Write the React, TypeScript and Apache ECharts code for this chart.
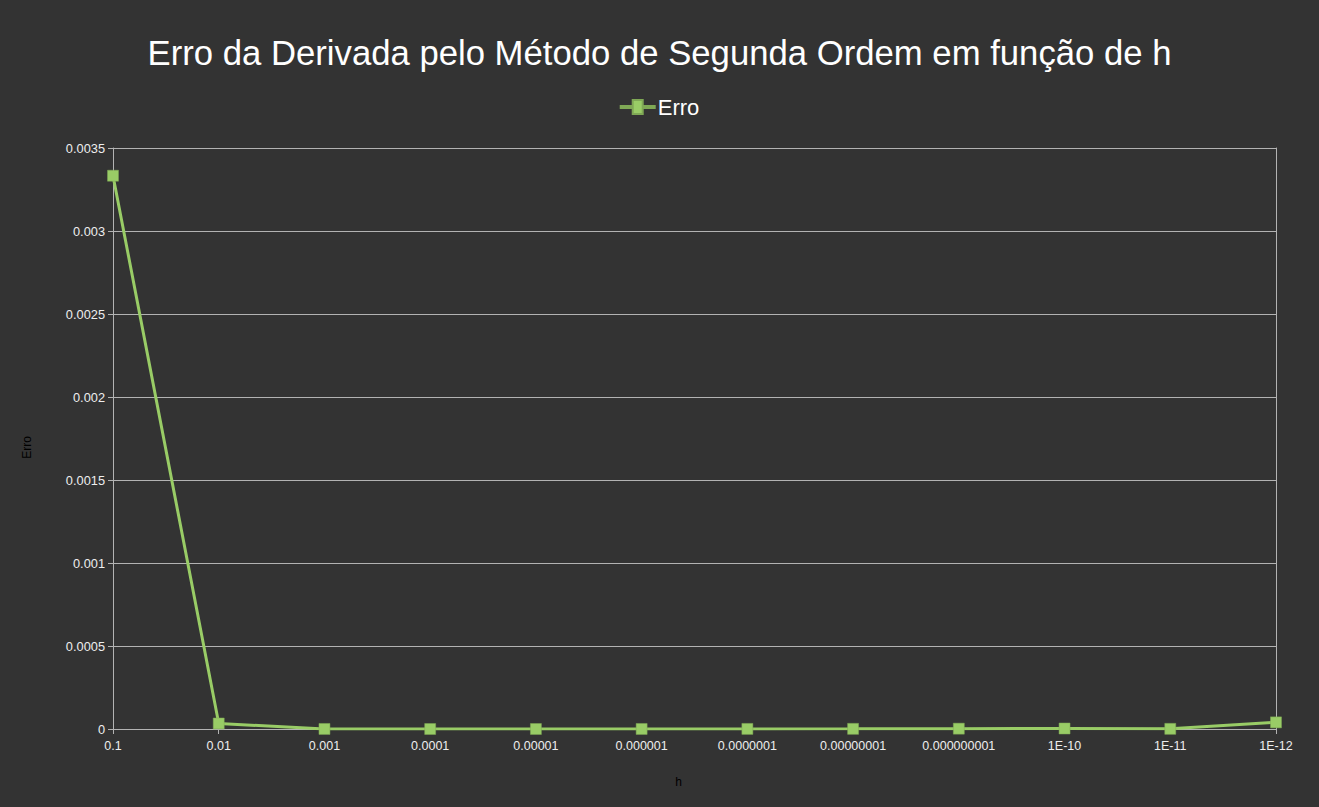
import React, { useEffect, useRef } from "react";
import * as echarts from "echarts";

const categories = ["0.1", "0.01", "0.001", "0.0001", "0.00001", "0.000001", "0.0000001", "0.00000001", "0.000000001", "1E-10", "1E-11", "1E-12"];
const erroValues = [0.003333, 0.0000333, 0.00000033, 0.0000000033, 0.00000003, 0.0000002, 0.0000006, 0.000001, 0.000002, 0.000003, 0.000001, 0.00004];
const yTicks = { min: 0, max: 0.0035, interval: 0.0005 };

export default function App() {
  const ref = useRef<HTMLDivElement>(null);
  useEffect(() => {
    if (!ref.current) return;
    const chart = echarts.init(ref.current, null, { renderer: "svg" });
    const green = "#99cc66";
    const font = "Liberation Sans, Arial, sans-serif";
    chart.setOption({
      animation: false,
      backgroundColor: "#333333",
      title: {
        text: "Erro da Derivada pelo Método de Segunda Ordem em função de h",
        left: "center",
        top: 30,
        textStyle: { color: "#ffffff", fontSize: 34.7, fontWeight: "normal", fontFamily: font },
      },
      legend: {
        top: 91,
        left: "center",
        itemWidth: 34,
        itemHeight: 14,
        itemGap: 4,
        textStyle: { color: "#ffffff", fontSize: 22, fontFamily: font, padding: [0, 0, 0, -2] },
        data: [{ name: "Erro", icon: "path://M0,6 L12,6 L12,0 L22,0 L22,6 L34,6 L34,8 L22,8 L22,14 L12,14 L12,8 L0,8 Z" }],
      },
      grid: { left: 113, right: 43, top: 148, bottom: 78, containLabel: false },
      xAxis: {
        type: "category",
        data: categories,
        boundaryGap: false,
        name: "h",
        nameLocation: "middle",
        nameGap: 47,
        nameTextStyle: { color: "#000000", fontSize: 12, fontFamily: font, padding: [0, 32, 0, 0] },
        axisLine: { lineStyle: { color: "#b3b3b3", width: 1 } },
        axisTick: { show: true, alignWithLabel: true, length: 5, lineStyle: { color: "#b3b3b3" } },
        axisLabel: { color: "#eeeeee", fontSize: 12.5, margin: 10, fontFamily: font, interval: 0 },
        splitLine: { show: false },
      },
      yAxis: [
        {
          type: "value",
          min: yTicks.min,
          max: yTicks.max,
          interval: yTicks.interval,
          name: "Erro",
          nameLocation: "middle",
          nameGap: 80,
          nameRotate: 90,
          nameTextStyle: { color: "#000000", fontSize: 12, fontFamily: font, padding: [0, 18, 0, 0] },
          axisLine: { show: true, lineStyle: { color: "#b3b3b3", width: 1 } },
          axisTick: { show: true, length: 5, lineStyle: { color: "#b3b3b3" } },
          axisLabel: { color: "#eeeeee", fontSize: 12.8, margin: 8, fontFamily: font, formatter: (v: number) => String(Number(v.toPrecision(4))) },
          splitLine: { show: true, lineStyle: { color: "#b3b3b3", width: 1 } },
        },
        {
          type: "value",
          position: "right",
          min: yTicks.min,
          max: yTicks.max,
          interval: yTicks.interval,
          axisLine: { show: true, lineStyle: { color: "#b3b3b3", width: 1 } },
          axisTick: { show: false },
          axisLabel: { show: false },
          splitLine: { show: false },
        },
      ],
      series: [
        {
          name: "Erro",
          type: "line",
          data: erroValues,
          yAxisIndex: 0,
          symbol: "rect",
          symbolSize: 11,
          showAllSymbol: true,
          lineStyle: { color: green, width: 3 },
          itemStyle: { color: green, borderColor: "#7fa855", borderWidth: 0.5 },
        },
      ],
    });
    return () => chart.dispose();
  }, []);
  return <div ref={ref} style={{ position: "fixed", left: 0, top: 0, width: 1319, height: 807 }} />;
}
